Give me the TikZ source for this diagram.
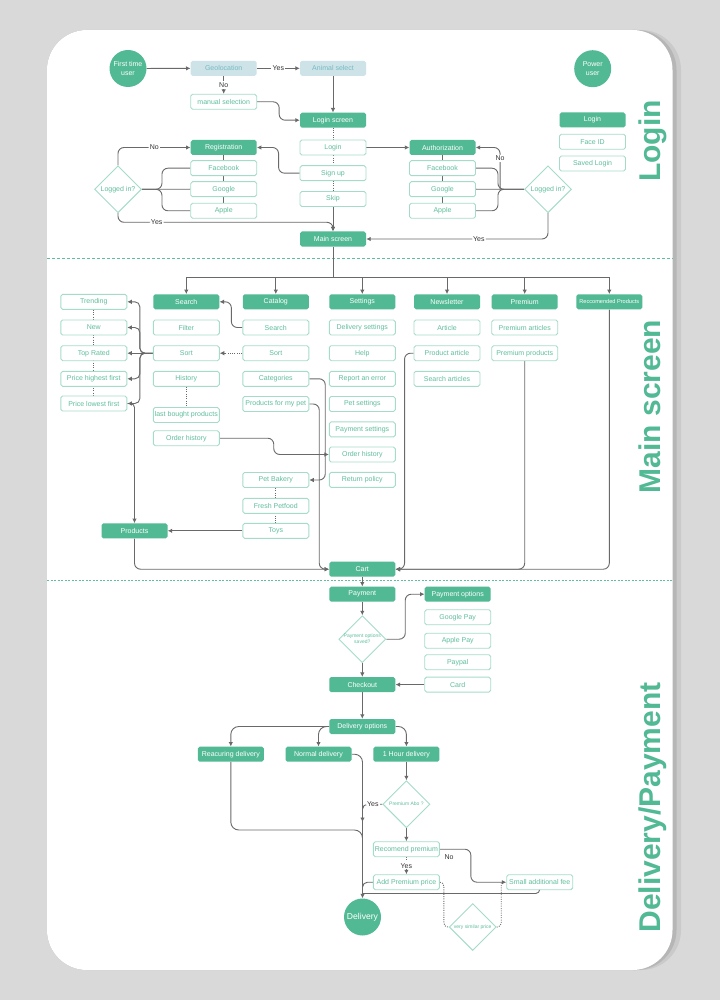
\documentclass[tikz,border=0pt]{standalone}
\usepackage{fontspec}
\setmainfont{Liberation Sans}
\usetikzlibrary{shapes.geometric,arrows.meta,calc}
\definecolor{G}{RGB}{82,185,149}
\definecolor{GL}{RGB}{165,220,200}
\definecolor{GT}{RGB}{95,190,155}
\definecolor{BLF}{RGB}{205,227,232}
\definecolor{BLT}{RGB}{118,186,196}
\definecolor{LN}{RGB}{105,105,105}
\definecolor{BGC}{RGB}{217,217,217}
\definecolor{SHA}{RGB}{202,202,202}
\definecolor{SHB}{RGB}{182,182,182}
\definecolor{SEP}{RGB}{95,190,160}
\pgfdeclarelayer{bg}\pgfdeclarelayer{conn}\pgfsetlayers{bg,conn,main}
\newcommand{\fsn}{\fontsize{7}{8.3}\selectfont}
\newcommand{\fss}{\fontsize{5}{6}\selectfont}
\tikzset{
 boxbase/.style={rectangle, rounded corners=1.8pt, minimum width=66pt, minimum height=15pt, inner sep=0pt, font=\fsn},
 fbox/.style={boxbase, fill=G, text=white},
 obox/.style={boxbase, draw=GL, line width=0.9pt, fill=white, text=GT},
 lbox/.style={boxbase, fill=BLF, text=BLT},
 dia/.style={diamond, aspect=1, draw=GL, line width=0.9pt, fill=white, text=GT, minimum width=47pt, minimum height=47pt, inner sep=0pt, align=center},
 circ/.style={circle, fill=G, text=white, minimum size=37pt, inner sep=0pt, align=center, font=\fsn},
 con/.style={draw=LN, line width=0.9pt},
 arr/.style={con, -{Latex[length=4.5pt,width=4.5pt]}},
 dotl/.style={draw=LN, line width=0.9pt, dash pattern=on 1pt off 1.3pt},
 lab/.style={font=\fsn, text=black!80, fill=white, inner sep=1.2pt},
 bigt/.style={rotate=90, anchor=base, text=G, font=\fontsize{30}{30}\bfseries\selectfont},
}
\begin{document}
\begin{tikzpicture}[x=1pt,y=-1pt]
\useasboundingbox (0,0) rectangle (720,1000);
\begin{pgfonlayer}{bg}
\fill[BGC] (0,0) rectangle (720,1000);
\fill[SHA, rounded corners=40pt] (47,30) rectangle (681,970);
\fill[SHB, rounded corners=40pt] (47,30) rectangle (676.5,970);
\fill[white, rounded corners=40pt] (47,30) rectangle (672.5,970);
\draw[SEP, line width=0.8pt, dash pattern=on 3pt off 2pt] (47,258) -- (672.5,258);
\draw[SEP, line width=1.6pt, dash pattern=on 2pt off 1.5pt] (47,580.5) -- (672.5,580.5);
\end{pgfonlayer}

% ---------- Login section
\node[circ] (ftu) at (128,68.5) {First time\\user};
\node[lbox] (geo) at (223.7,68.3) {Geolocation};
\node[lbox] (ani) at (333,68.3) {Animal select};
\node[obox] (man) at (223.7,101.8) {manual selection};
\node[fbox] (lsc) at (333,120.2) {Login screen};
\node[obox] (lgn) at (333,147.5) {Login};
\node[obox] (sup) at (333,173.2) {Sign up};
\node[obox] (skp) at (333,199) {Skip};
\node[fbox] (msc) at (333,239) {Main screen};
\node[fbox] (reg) at (223.7,147.5) {Registration};
\node[obox] (rfb) at (223.7,168.2) {Facebook};
\node[obox] (rgo) at (223.7,189.2) {Google};
\node[obox] (rap) at (223.7,210.8) {Apple};
\node[dia, font=\fsn] (ldi) at (118,189.3) {Logged in?};
\node[fbox] (aut) at (442.5,147.5) {Authorization};
\node[obox] (afb) at (442.5,168.2) {Facebook};
\node[obox] (ago) at (442.5,189.2) {Google};
\node[obox] (aap) at (442.5,210.8) {Apple};
\node[dia, font=\fsn] (rdi) at (548,189.3) {Logged in?};
\node[circ] (pwu) at (592.7,68.7) {Power\\user};
\node[fbox] (plg) at (592.5,120) {Login};
\node[obox] (pfi) at (592.5,141.8) {Face ID};
\node[obox] (psl) at (592.5,163.5) {Saved Login};
\node[bigt] (tlogin) at (660,141) {Login};

% ---------- Main screen section
\node[fbox] (hse) at (186.3,301.8) {Search};
\node[fbox] (hca) at (275.8,301.8) {Catalog};
\node[fbox] (hst) at (362.3,301.8) {Settings};
\node[fbox] (hnl) at (447,301.8) {Newsletter};
\node[fbox] (hpr) at (524.7,301.8) {Premium};
\node[fbox, font=\fontsize{5.6}{6}\selectfont] (hrp) at (609.3,301.8) {Reccomended Products};

\node[obox] (trend) at (93.8,301.8) {Trending};
\node[obox] (new) at (93.8,327.5) {New};
\node[obox] (trated) at (93.8,353.2) {Top Rated};
\node[obox] (phigh) at (93.8,378.8) {Price highest first};
\node[obox] (plow) at (93.8,403.5) {Price lowest first};

\node[obox] (filt) at (186.3,327.5) {Filter};
\node[obox] (ssort) at (186.3,353.2) {Sort};
\node[obox] (hist) at (186.3,378.8) {History};
\node[obox] (lbp) at (186.3,415) {last bought products};
\node[obox] (soh) at (186.3,438.2) {Order history};

\node[obox] (csea) at (275.8,327.5) {Search};
\node[obox] (csor) at (275.8,353.2) {Sort};
\node[obox] (ccat) at (275.8,378.8) {Categories};
\node[obox] (cpet) at (275.8,404) {Products for my pet};
\node[obox] (cbak) at (275.8,480) {Pet Bakery};
\node[obox] (cfre) at (275.8,505.8) {Fresh Petfood};
\node[obox] (ctoy) at (275.8,530.8) {Toys};
\node[fbox] (prd) at (134.5,530.8) {Products};

\node[obox] (sdel) at (362.3,327.5) {Delivery settings};
\node[obox] (shlp) at (362.3,353.2) {Help};
\node[obox] (srep) at (362.3,378.8) {Report an error};
\node[obox] (spet) at (362.3,404) {Pet settings};
\node[obox] (spay) at (362.3,429.4) {Payment settings};
\node[obox] (sord) at (362.3,454.5) {Order history};
\node[obox] (sret) at (362.3,479.8) {Return policy};

\node[obox] (nart) at (447,327.5) {Article};
\node[obox] (npro) at (447,353.2) {Product article};
\node[obox] (nsea) at (447,378.8) {Search articles};
\node[obox] (part) at (524.7,327.5) {Premium articles};
\node[obox] (ppro) at (524.7,353.2) {Premium products};

\node[fbox] (crt) at (362.3,569.2) {Cart};
\node[bigt] (tmain) at (660,406.5) {Main screen};

% ---------- Delivery / Payment section
\node[fbox] (pay) at (362.3,594.2) {Payment};
\node[dia, font=\fss] (pdi) at (362.3,639.2) {Payment options\\saved?};
\node[fbox] (pop) at (457.7,594.2) {Payment options};
\node[obox] (gpay) at (457.7,617.2) {Google Pay};
\node[obox] (apay) at (457.7,640.7) {Apple Pay};
\node[obox] (ppal) at (457.7,662.2) {Paypal};
\node[obox] (card) at (457.7,684.6) {Card};
\node[fbox] (chk) at (362.3,684.6) {Checkout};
\node[fbox] (dop) at (362.3,726.5) {Delivery options};
\node[fbox] (rec) at (230.8,754.2) {Reacuring delivery};
\node[fbox] (nor) at (318.5,754.2) {Normal delivery};
\node[fbox] (hou) at (406.4,754.2) {1 Hour delivery};
\node[dia, font=\fss] (pab) at (406.4,804.2) {Premium Abo ?};
\node[obox] (rpr) at (406.4,849.2) {Recomend premium};
\node[obox] (apr) at (406.4,882.2) {Add Premium price};
\node[obox] (saf) at (539.7,882.2) {Small additional fee};
\node[circ, font=\fontsize{8.6}{10}\selectfont] (dlv) at (362.5,917) {Delivery};
\node[dia, font=\fss] (vsp) at (472.7,927) {very similar price};
\node[bigt] (tdel) at (660,807.5) {Delivery/Payment};

\begin{pgfonlayer}{conn}
% login connectors
\draw[arr] (ftu) -- (geo);
\draw[arr] (geo) -- node[lab]{Yes} (ani);
\draw[arr] (geo) -- node[lab]{No} (man);
\draw[arr] (ani) -- (lsc);
\draw[arr, rounded corners=6pt] (man.east) -- ++(22,0) |- (lsc.west);
\draw[dotl] (lsc) -- (skp);
\draw[arr] (lgn) -- (aut);
\draw[arr, rounded corners=6pt] (sup.west) -- ++(-21,0) |- (reg.east);
\draw[arr] (skp) -- (msc);
\draw[con] (reg) -- (rap);
\draw[con] (aut) -- (aap);
\draw[con, rounded corners=6pt] (ldi.east) -- ++(20,0) |- (rfb.west);
\draw[con, rounded corners=6pt] (ldi.east) -- ++(20,0) |- (rap.west);
\draw[con] (ldi.east) -- (rgo.west);
\draw[arr, rounded corners=6pt] (ldi.north) |- node[lab, pos=0.75]{No} (reg.west);
\draw[arr, rounded corners=6pt] (ldi.south) |- node[lab, pos=0.59]{Yes} ($(msc.north)+(0,-9)$) -- (msc.north);
\draw[con, rounded corners=6pt] (afb.east) -- ++(22,0) |- (rdi.west);
\draw[con, rounded corners=6pt] (aap.east) -- ++(22,0) |- (rdi.west);
\draw[con] (ago.east) -- (rdi.west);
\coordinate (rj) at ($(rdi.west)+(-24,0)$);
\draw[arr, rounded corners=6pt] (rj) |- node[lab, pos=0.37]{No} (aut.east);
\draw[arr, rounded corners=6pt] (rdi.south) |- node[lab, pos=0.69]{Yes} (msc.east);

% main screen connectors
\draw[con] (msc.south) -- ++(0,31) coordinate (hub);
\foreach \h in {hse,hca,hst,hnl,hpr,hrp} \draw[arr] (hub) -| (\h.north);
\foreach \t in {trend,new,phigh,plow} \draw[arr, rounded corners=5pt] (ssort.west) -- ++(-13,0) |- (\t.east);
\draw[arr] (ssort.west) -- (trated.east);
\draw[dotl] (trend) -- (plow);
\draw[arr, rounded corners=6pt] (csea.west) -- ++(-11,0) |- (hse.east);
\draw[arr, dotl] (csor.west) -- (ssort.east);
\draw[arr, rounded corners=6pt] (ccat.east) -- ++(16,0) |- (cbak.east);
\draw[arr, rounded corners=6pt] (cpet.east) -- ++(10,0) |- (crt.west);
\draw[arr, rounded corners=6pt] (soh.east) -- ++(54,0) |- (sord.west);
\draw[dotl] (hist) -- (lbp);
\draw[dotl] (cbak) -- (ctoy);
\draw[arr] (ctoy) -- (prd);
\draw[arr, rounded corners=4pt] (plow.east) -| (prd.north);
\draw[arr, rounded corners=6pt] (prd.south) |- (crt.west);
\draw[arr, rounded corners=6pt] (npro.west) -- ++(-9,0) |- (crt.east);
\draw[arr, rounded corners=6pt] (ppro.south) |- (crt.east);
\draw[arr, rounded corners=6pt] (hrp.south) |- (crt.east);

% delivery connectors
\draw[arr] (crt) -- (pay);
\draw[arr] (pay) -- (pdi);
\draw[arr, rounded corners=6pt] (pdi.east) -- ++(19,0) |- (pop.west);
\draw[arr] (pdi) -- (chk);
\draw[arr] (card) -- (chk);
\draw[arr] (chk) -- (dop);
\draw[arr, rounded corners=8pt] (dop.west) -| (rec.north);
\draw[arr, rounded corners=8pt] (dop.west) -| (nor.north);
\draw[arr, rounded corners=8pt] (dop.east) -| (hou.north);
\draw[arr] (hou) -- (pab);
\draw[arr, rounded corners=8pt] (nor.east) -| (dlv.north);
\coordinate (yin) at (362.5,822);
\draw[arr, rounded corners=5pt] (pab.west) -| node[lab, pos=0.24]{Yes} (yin);
\coordinate (rj2) at (362.5,830);
\draw[con, rounded corners=8pt] (rec.south) |- (rj2) -- ++(0,15);
\draw[arr] (pab) -- (rpr);
\draw[arr, dotl] (rpr) -- node[lab]{Yes} (apr);
\draw[arr, rounded corners=6pt] (rpr.east) -- node[lab, pos=0.3, below=4pt, fill=none]{No} ++(31,0) |- (saf.west);
\coordinate (dtop) at (362.5,893.5);
\draw[con, rounded corners=4pt] (saf.south) |- (dtop);
\draw[con, rounded corners=5pt] (apr.west) -| (dtop);
\draw[dotl, rounded corners=4pt] (apr.east) -- ++(4,0) |- (vsp.west);
\draw[dotl, rounded corners=4pt] (vsp.east) -| ($(saf.west)+(-5,0)$);
\end{pgfonlayer}
\end{tikzpicture}
\end{document}
